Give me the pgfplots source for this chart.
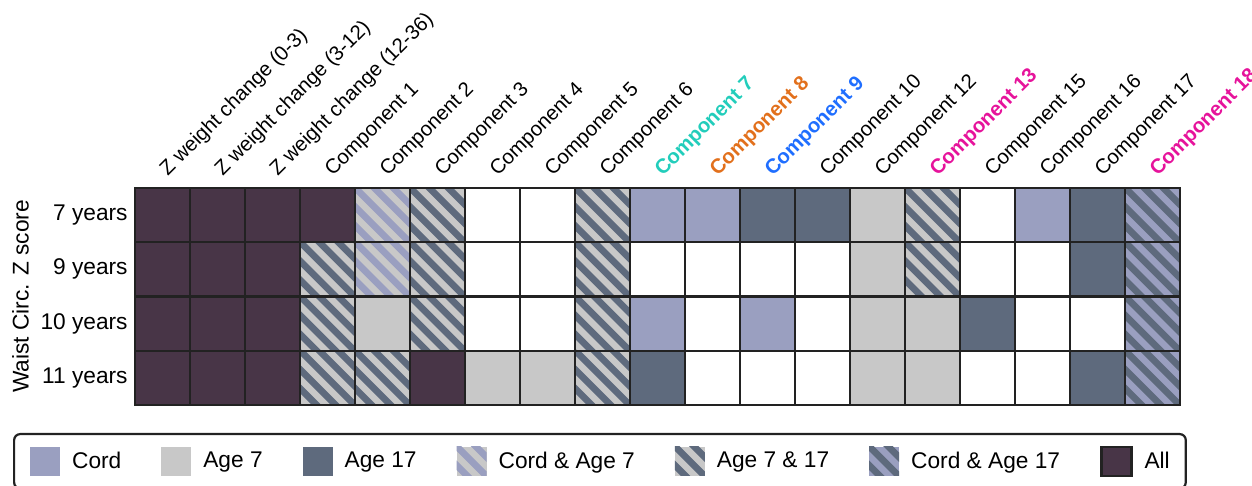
\documentclass[border=0pt]{standalone}
\usepackage{pgfplots}
\pgfplotsset{compat=1.18}
\usepackage{fontspec}
\setmainfont{Liberation Sans}

% cell colours
\definecolor{cordc}{HTML}{9A9FC0}
\definecolor{agesev}{HTML}{C8C8C8}
\definecolor{ageseventeen}{HTML}{5E6A7D}
\definecolor{allc}{HTML}{483547}
\definecolor{cellline}{HTML}{222222}
% highlighted column labels
\definecolor{labteal}{HTML}{22CDBB}
\definecolor{laborange}{HTML}{E2701C}
\definecolor{labblue}{HTML}{1F6EFF}
\definecolor{labpink}{HTML}{E6139B}

\newcommand\tickfont{\fontsize{10.2pt}{12pt}\selectfont}
\newcommand\labfont{\fontsize{11.35pt}{13.5pt}\selectfont}

% half width / half height of one grid cell
\newdimen\cellhw \cellhw=13.75pt
\newdimen\cellhh \cellhh=13.5625pt
\newif\ifcellborder \cellbordertrue

\newcommand\cellbox{\pgfpathrectangle{\pgfqpoint{-\cellhw}{-\cellhh}}{\pgfqpoint{2\cellhw}{2\cellhh}}}
\newcommand\cellborder{\ifcellborder\cellbox\pgfsetstrokecolor{cellline}\pgfsetlinewidth{1.2pt}\pgfusepath{stroke}\fi}
\newcommand\solidcell[1]{%
  \pgfsetcornersarced{\pgfpointorigin}%
  \cellbox\pgfsetfillcolor{#1}\pgfusepath{fill}%
  \cellborder}
% diagonal two-colour hatching: background #1, stripes #2
\newcommand\stripedcell[2]{%
  \pgfsetcornersarced{\pgfpointorigin}%
  \pgfscope
    \cellbox\pgfsetfillcolor{#1}\pgfusepath{fill}%
    \cellbox\pgfusepath{clip}%
    \pgfsetlinewidth{3.36pt}\pgfsetstrokecolor{#2}\pgfsetbuttcap
    \foreach \k in {-4,...,4}{%
      \pgfpathmoveto{\pgfpoint{\k*9.5pt-30pt}{30pt}}%
      \pgfpathlineto{\pgfpoint{\k*9.5pt+30pt}{-30pt}}%
      \pgfusepath{stroke}}%
  \endpgfscope
  \cellborder}

\pgfdeclareplotmark{cellwhite}{\solidcell{white}}
\pgfdeclareplotmark{cellcord}{\solidcell{cordc}}
\pgfdeclareplotmark{cellsev}{\solidcell{agesev}}
\pgfdeclareplotmark{cellseventeen}{\solidcell{ageseventeen}}
\pgfdeclareplotmark{cellcordsev}{\stripedcell{agesev}{cordc}}
\pgfdeclareplotmark{cellsevseventeen}{\stripedcell{agesev}{ageseventeen}}
\pgfdeclareplotmark{cellcordseventeen}{\stripedcell{cordc}{ageseventeen}}
\pgfdeclareplotmark{cellall}{\solidcell{allc}}

% small swatch for the legend
\newcommand\legendswatch[2][\cellborderfalse]{%
  \pgfscope #1\cellhw=7.5pt \cellhh=7.25pt
  \pgftransformshift{\pgfqpoint{7.5pt}{0pt}}\pgfuseplotmark{#2}\endpgfscope}

\begin{document}
\begin{tikzpicture}
\begin{axis}[
  at={(0pt,0pt)}, anchor=south west,
  x=27.5pt, y=27.125pt,
  xmin=-0.5, xmax=18.5, ymin=-0.5, ymax=3.5,
  axis line style={draw=none},
  major tick length=0pt,
  clip=false,
  xtick={0,...,18},
  xticklabels={Z weight change (0-3), Z weight change (3-12), Z weight change (12-36),
    Component 1, Component 2, Component 3, Component 4, Component 5, Component 6,
    \textcolor{labteal}{\bfseries Component 7},
    \textcolor{laborange}{\bfseries Component 8},
    \textcolor{labblue}{\bfseries Component 9},
    Component 10, Component 12,
    \textcolor{labpink}{\bfseries Component 13},
    Component 15, Component 16, Component 17,
    \textcolor{labpink}{\bfseries Component 18}},
  xticklabel pos=upper,
  xticklabel style={font=\tickfont, inner sep=0pt, rotate=45, anchor=base west, xshift=5.66pt, yshift=2.12pt},
  ytick={0,1,2,3},
  yticklabels={11 years,10 years,9 years,7 years},
  yticklabel style={font=\labfont, inner sep=0pt, anchor=east, xshift=-3.5pt},
  ylabel={Waist Circ. Z score},
  every axis y label/.style={at={(axis description cs:-0.1019,0.5)}, rotate=90, anchor=base, font=\labfont},
  legend columns=7,
  legend cell align=left,
  legend style={at={(axis description cs:-0.1167,-0.129)}, anchor=north west,
    draw=cellline, line width=1.1pt, rounded corners=3pt,
    inner xsep=8pt, inner ysep=5.75pt, font=\labfont,
    nodes={inner sep=0pt},
    /tikz/every odd column/.append style={column sep=6pt},
    /tikz/every even column/.append style={column sep=20pt}},
]
% rows: 3 = 7 years, 2 = 9 years, 1 = 10 years, 0 = 11 years
\addplot[only marks, mark=cellwhite, forget plot] coordinates {
  (6,1) (6,2) (6,3) (7,1) (7,2) (7,3) (9,2) (10,0) (10,1) (10,2)
  (11,2) (11,0) (12,0) (12,1) (12,2) (15,3) (15,2) (15,0)
  (16,0) (16,1) (16,2) (17,1)};
\addplot[only marks, mark=cellcord, legend image code/.code={\legendswatch{cellcord}}] coordinates {
  (9,3) (9,1) (10,3) (11,1) (16,3)};
\addlegendentry{Cord}
\addplot[only marks, mark=cellsev, legend image code/.code={\legendswatch{cellsev}}] coordinates {
  (4,1) (6,0) (7,0) (13,0) (13,1) (13,2) (13,3) (14,1) (14,0)};
\addlegendentry{Age 7}
\addplot[only marks, mark=cellseventeen, legend image code/.code={\legendswatch{cellseventeen}}] coordinates {
  (9,0) (11,3) (12,3) (15,1) (17,3) (17,2) (17,0)};
\addlegendentry{Age 17}
\addplot[only marks, mark=cellcordsev, legend image code/.code={\legendswatch{cellcordsev}}] coordinates {
  (4,3) (4,2)};
\addlegendentry{Cord \& Age 7}
\addplot[only marks, mark=cellsevseventeen, legend image code/.code={\legendswatch{cellsevseventeen}}] coordinates {
  (3,2) (3,1) (3,0) (4,0) (5,3) (5,2) (5,1) (8,0) (8,1) (8,2) (8,3) (14,3) (14,2)};
\addlegendentry{Age 7 \& 17}
\addplot[only marks, mark=cellcordseventeen, legend image code/.code={\legendswatch{cellcordseventeen}}] coordinates {
  (18,0) (18,1) (18,2) (18,3)};
\addlegendentry{Cord \& Age 17}
\addplot[only marks, mark=cellall, legend image code/.code={\legendswatch[\cellbordertrue]{cellall}}] coordinates {
  (0,0) (0,1) (0,2) (0,3) (1,0) (1,1) (1,2) (1,3) (2,0) (2,1) (2,2) (2,3) (3,3) (5,0)};
\addlegendentry{All}
\end{axis}
\pgfresetboundingbox
\useasboundingbox (-67.5pt,-40.5pt) rectangle (558.5pt,202.5pt);
\end{tikzpicture}
\end{document}
